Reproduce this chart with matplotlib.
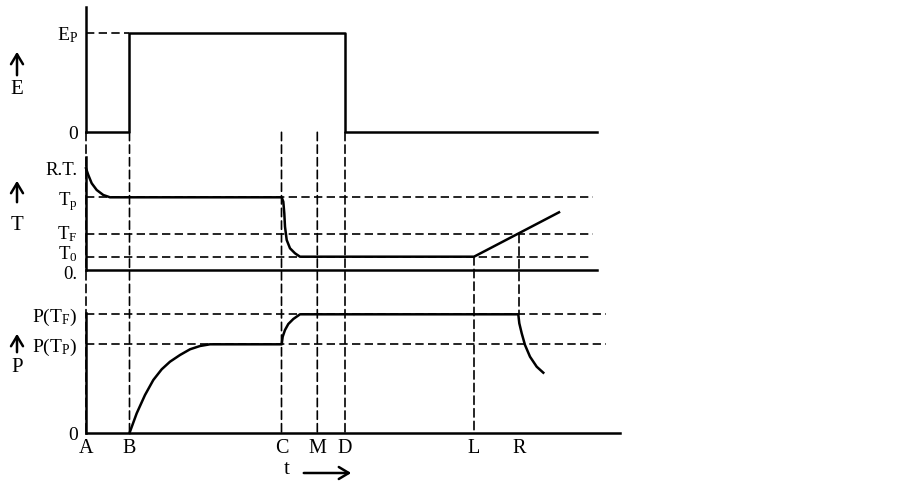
import matplotlib.pyplot as plt
from matplotlib.patches import ConnectionPatch, FancyArrowPatch
from matplotlib.transforms import ScaledTranslation

plt.rcParams['font.family'] = ['Liberation Serif', 'DejaVu Serif']
plt.rcParams['mathtext.fontset'] = 'custom'
plt.rcParams['mathtext.rm'] = 'Liberation Serif'
plt.rcParams['mathtext.it'] = 'Liberation Serif:italic'

# zaman isaretleri (A..R)
mark_labels = ['A', 'B', 'C', 'M', 'D', 'L', 'R']
mark_t = [0, 43.5, 195.5, 231.3, 259, 388, 433]

# seviyeler
E_P = 99.6
T_RT, T_P, T_F, T_0 = 101.7, 72.7, 35.7, 13.3
P_TP, P_TF = 89, 119

# E(t): dikdortgen darbe
e_t = [0, 43.5, 43.5, 259, 259, 510.7]
e_val = [0, 0, E_P, E_P, 0, 0]

# T(t)
t_t = [0, 2.3, 5.7, 10.7, 17.3, 24, 195.7, 197.3, 198.3, 199, 200.7, 204, 209, 214, 388, 473]
t_val = [101.7, 95, 86.7, 80, 75, 72.7, 72.7, 68.3, 56.7, 43.3, 30, 21.7, 16.7, 13.3, 13.3, 57.7]

# P(t)
p_t = [43.5, 50.7, 59, 67.3, 75.7, 84, 94, 104, 114, 124, 195.7, 196.7, 199, 202.3,
       207.3, 214, 432.3, 433.3, 435.7, 439, 444, 450.7, 457.3]
p_val = [0, 19.7, 38, 53, 63.7, 71.3, 78, 83.7, 87, 88.7, 88.7, 96.3, 103, 109,
         114, 118.7, 118.7, 109.7, 99.7, 88, 76.3, 66.3, 60.3]

W, H = 903, 484
fig = plt.figure(figsize=(W / 100, H / 100), dpi=100)

def panel(top, bottom, ytop, fs=14):
    ax = fig.add_axes([86 / W, 1 - bottom / H, 534 / W, (bottom - top) / H])
    ax.set_xlim(0, 534)
    ax.set_ylim(0, ytop)
    ax.patch.set_alpha(0)
    for s in ['top', 'right', 'bottom']:
        ax.spines[s].set_visible(False)
    ax.spines['left'].set_linewidth(1.8)
    ax.set_xticks([])
    ax.tick_params(length=0, pad=6, labelsize=fs)
    return ax

solid = dict(color='black', lw=1.8, clip_on=False)
dash = dict(color='black', lw=1.2, linestyle=(0, (5, 2.6)), clip_on=False)

def nudge(label, dy_pt):
    label.set_transform(label.get_transform() + ScaledTranslation(0, dy_pt / 72, fig.dpi_scale_trans))

# --- E paneli ---
ax_e = panel(7, 132.3, 125.3)
ax_e.plot(e_t, e_val, **solid)
ax_e.plot([0, mark_t[1]], [E_P, E_P], **dash)
ax_e.set_yticks([0, E_P], ['0', r'E$_{\rm P}$'])

# --- T paneli ---
ax_t = panel(157, 270, 113, fs=13.5)
ax_t.plot([0, 510.7], [0, 0], **solid)
ax_t.plot(t_t, t_val, **solid)
for lev, end in [(T_P, 507), (T_F, 507), (T_0, 505)]:
    ax_t.plot([0, end], [lev, lev], **dash)
ax_t.set_yticks([0, T_0, T_F, T_P, T_RT],
                ['0.', r'T$_0$', r'T$_{\rm F}$', r'T$_{\rm p}$', 'R.T.'])
tlabels = ax_t.get_yticklabels()
nudge(tlabels[0], -2)
nudge(tlabels[1], 3.5)
nudge(tlabels[2], 1.5)

# --- P paneli ---
ax_p = panel(313, 433, 120)
ax_p.plot([0, 534], [0, 0], **solid)
ax_p.plot(p_t, p_val, **solid)
for lev in [P_TP, P_TF]:
    ax_p.plot([0, 520], [lev, lev], **dash)
ax_p.set_yticks([0, P_TP, P_TF], ['0', r'P(T$_{\rm P}$)', r'P(T$_{\rm F}$)'])
ax_p.set_xticks(mark_t, mark_labels)
ax_p.tick_params(axis='x', length=0, pad=4, labelsize=14.5)

# dikey kesikli cizgiler
def vline(x, axA, yA, axB, yB):
    cp = ConnectionPatch(xyA=(x, yA), coordsA=axA.transData, xyB=(x, yB), coordsB=axB.transData,
                         color='black', lw=1.2, linestyle=(0, (5, 2.6)))
    fig.add_artist(cp)

for x in mark_t[:5]:
    vline(x, ax_e, 0, ax_p, 0)
vline(mark_t[5], ax_t, T_0, ax_p, 0)
vline(mark_t[6], ax_t, T_F, ax_p, P_TF)

# sol eksen etiketleri ve oklar
def up_arrow(x, y0, y1):
    fig.add_artist(FancyArrowPatch((x / W, 1 - y0 / H), (x / W, 1 - y1 / H),
                                   transform=fig.transFigure, arrowstyle='->,head_length=0.6,head_width=0.36',
                                   mutation_scale=12, lw=1.8, color='black'))

for name, y_txt, y0, y1 in [('E', 90, 78, 49), ('T', 225, 205, 178), ('P', 368, 355, 331)]:
    up_arrow(17, y0, y1)
    fig.text(17 / W, 1 - y_txt / H, name, ha='center', va='center', fontsize=15)

fig.text(287 / W, 1 - 470 / H, 't', ha='center', va='center', fontsize=15)
fig.add_artist(FancyArrowPatch((301 / W, 1 - 473 / H), (354 / W, 1 - 473 / H),
                               transform=fig.transFigure, arrowstyle='->,head_length=0.6,head_width=0.36',
                               mutation_scale=12, lw=1.8, color='black'))

fig.savefig('out.png', dpi=100)
